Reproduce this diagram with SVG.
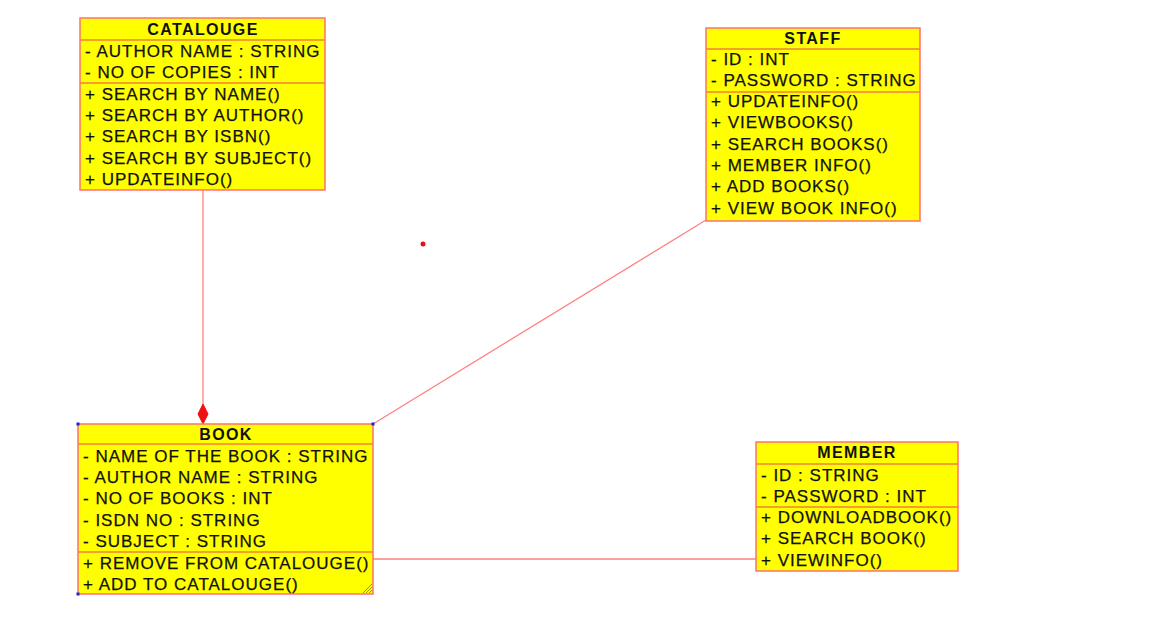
<svg xmlns="http://www.w3.org/2000/svg" width="1167" height="633" viewBox="0 0 1167 633">
  <style>
    .box { fill: #ffff00; stroke: #ff7070; stroke-width: 1.5; }
    .sep { stroke: #f0803c; stroke-width: 1.5; }
    .title { font-family: "Liberation Sans", Arial, sans-serif; font-size: 16px; font-weight: bold; letter-spacing: 1.4px; fill: #111; text-anchor: middle; }
    .row { font-family: "Liberation Sans", Arial, sans-serif; font-size: 17px; letter-spacing: 1px; fill: #111; stroke: #111; stroke-width: 0.25; }
    .link { stroke: #ff8080; stroke-width: 1.3; fill: none; }
    .handle { fill: #2020d0; }
  </style>
  <rect width="1167" height="633" fill="#ffffff"/>

  <!-- connectors -->
  <g id="connectors">
    <line class="link" x1="203" y1="190" x2="203" y2="405"/>
    <polygon points="203,404 208,414 203,424 198,414" fill="#ee1111" stroke="#ee1111" stroke-width="1"/>
    <line class="link" x1="706" y1="220" x2="373" y2="424"/>
    <line class="link" x1="373" y1="559" x2="756" y2="559"/>
  </g>

  <!-- stray point -->
  <circle cx="423" cy="244" r="2.5" fill="#e81010"/>

  <g id="catalouge">
    <rect class="box" x="80" y="18" width="245" height="172"/>
    <line class="sep" x1="80" y1="40" x2="325" y2="40"/>
    <line class="sep" x1="80" y1="83" x2="325" y2="83"/>
    <text class="title" x="203" y="35">CATALOUGE</text>
    <text class="row" x="85" y="57">- AUTHOR NAME : STRING</text>
    <text class="row" x="85" y="78">- NO OF COPIES : INT</text>
    <text class="row" x="85" y="100">+ SEARCH BY NAME()</text>
    <text class="row" x="85" y="121">+ SEARCH BY AUTHOR()</text>
    <text class="row" x="85" y="142">+ SEARCH BY ISBN()</text>
    <text class="row" x="85" y="164">+ SEARCH BY SUBJECT()</text>
    <text class="row" x="85" y="185">+ UPDATEINFO()</text>
  </g>

  <g id="staff">
    <rect class="box" x="706" y="28" width="214" height="193"/>
    <line class="sep" x1="706" y1="49" x2="920" y2="49"/>
    <line class="sep" x1="706" y1="92" x2="920" y2="92"/>
    <text class="title" x="813" y="44">STAFF</text>
    <text class="row" x="711" y="65">- ID : INT</text>
    <text class="row" x="711" y="86">- PASSWORD : STRING</text>
    <text class="row" x="711" y="107">+ UPDATEINFO()</text>
    <text class="row" x="711" y="128">+ VIEWBOOKS()</text>
    <text class="row" x="711" y="150">+ SEARCH BOOKS()</text>
    <text class="row" x="711" y="171">+ MEMBER INFO()</text>
    <text class="row" x="711" y="192">+ ADD BOOKS()</text>
    <text class="row" x="711" y="214">+ VIEW BOOK INFO()</text>
  </g>

  <g id="book">
    <rect class="box" x="78" y="424" width="295" height="170"/>
    <line class="sep" x1="78" y1="444" x2="373" y2="444"/>
    <line class="sep" x1="78" y1="552" x2="373" y2="552"/>
    <text class="title" x="226" y="440">BOOK</text>
    <text class="row" x="83" y="462">- NAME OF THE BOOK : STRING</text>
    <text class="row" x="83" y="483">- AUTHOR NAME : STRING</text>
    <text class="row" x="83" y="504">- NO OF BOOKS : INT</text>
    <text class="row" x="83" y="526">- ISDN NO : STRING</text>
    <text class="row" x="83" y="547">- SUBJECT : STRING</text>
    <text class="row" x="83" y="569">+ REMOVE FROM CATALOUGE()</text>
    <text class="row" x="83" y="590">+ ADD TO CATALOUGE()</text>
    <!-- selection handles -->
    <rect class="handle" x="76.5" y="422.5" width="3" height="3"/>
    <rect class="handle" x="371.5" y="422.5" width="3" height="3"/>
    <rect class="handle" x="76.5" y="592.5" width="3" height="3"/>
    <g stroke="#8a9a30" stroke-width="1">
      <line x1="363" y1="593" x2="372" y2="584"/>
      <line x1="366" y1="593" x2="372" y2="587"/>
      <line x1="369" y1="593" x2="372" y2="590"/>
    </g>
  </g>

  <g id="member">
    <rect class="box" x="756" y="442" width="202" height="129"/>
    <line class="sep" x1="756" y1="464" x2="958" y2="464"/>
    <line class="sep" x1="756" y1="507" x2="958" y2="507"/>
    <text class="title" x="857" y="458">MEMBER</text>
    <text class="row" x="761" y="481">- ID : STRING</text>
    <text class="row" x="761" y="502">- PASSWORD : INT</text>
    <text class="row" x="761" y="523">+ DOWNLOADBOOK()</text>
    <text class="row" x="761" y="544">+ SEARCH BOOK()</text>
    <text class="row" x="761" y="566">+ VIEWINFO()</text>
  </g>
</svg>
